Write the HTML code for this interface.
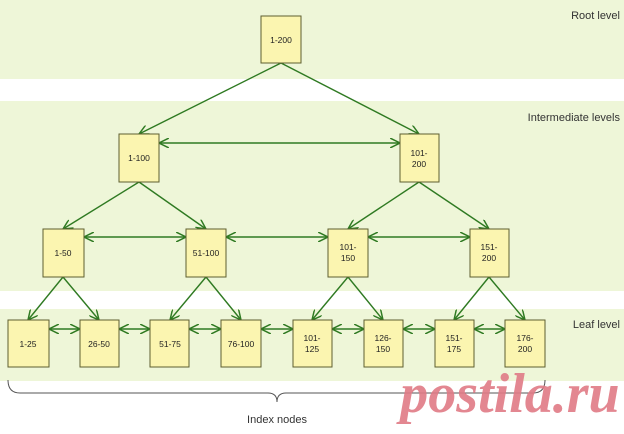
<!DOCTYPE html>
<html><head><style>body{margin:0;width:624px;height:429px;overflow:hidden;background:#fff}</style></head><body>
<svg width="624" height="429" viewBox="0 0 624 429" xmlns="http://www.w3.org/2000/svg" font-family="Liberation Sans, sans-serif">
<defs>
<marker id="a" viewBox="0 0 10 10" refX="10" refY="5" markerWidth="7" markerHeight="7" orient="auto-start-reverse"><path d="M0,0 L10,5 L0,10" fill="none" stroke="#2f7a22" stroke-width="1.5"/></marker>
</defs>
<rect x="0" y="0" width="624" height="79" fill="#eef6d8"/>
<rect x="0" y="101" width="624" height="190" fill="#eef6d8"/>
<rect x="0" y="309" width="624" height="72" fill="#eef6d8"/>
<g fill="#333" font-size="11">
<text x="620" y="19" text-anchor="end">Root level</text>
<text x="620" y="121" text-anchor="end">Intermediate levels</text>
<text x="620" y="328" text-anchor="end">Leaf level</text>
</g>
<g stroke="#2f7a22" stroke-width="1.4" fill="none" marker-end="url(#a)">
<line x1="281" y1="63" x2="139" y2="134"/>
<line x1="281" y1="63" x2="419" y2="134"/>
<line x1="139" y1="182" x2="63" y2="229"/>
<line x1="139" y1="182" x2="206" y2="229"/>
<line x1="419" y1="182" x2="348" y2="229"/>
<line x1="419" y1="182" x2="489" y2="229"/>
<line x1="63" y1="277" x2="28" y2="320"/>
<line x1="63" y1="277" x2="99" y2="320"/>
<line x1="206" y1="277" x2="170" y2="320"/>
<line x1="206" y1="277" x2="241" y2="320"/>
<line x1="348" y1="277" x2="312" y2="320"/>
<line x1="348" y1="277" x2="383" y2="320"/>
<line x1="489" y1="277" x2="454" y2="320"/>
<line x1="489" y1="277" x2="525" y2="320"/>
</g>
<g stroke="#2f7a22" stroke-width="1.4" fill="none" marker-start="url(#a)" marker-end="url(#a)">
<line x1="159" y1="143" x2="400" y2="143"/>
<line x1="84" y1="237" x2="186" y2="237"/>
<line x1="226" y1="237" x2="328" y2="237"/>
<line x1="368" y1="237" x2="470" y2="237"/>
<line x1="49" y1="329" x2="80" y2="329"/>
<line x1="119" y1="329" x2="150" y2="329"/>
<line x1="189" y1="329" x2="221" y2="329"/>
<line x1="261" y1="329" x2="293" y2="329"/>
<line x1="332" y1="329" x2="364" y2="329"/>
<line x1="403" y1="329" x2="435" y2="329"/>
<line x1="474" y1="329" x2="505" y2="329"/>
</g>
<g fill="#fbf5b0" stroke="#5e5e30" stroke-width="1">
<rect x="261" y="16" width="40" height="47"/>
<rect x="119" y="134" width="40" height="48"/>
<rect x="400" y="134" width="39" height="48"/>
<rect x="43" y="229" width="41" height="48"/>
<rect x="186" y="229" width="40" height="48"/>
<rect x="328" y="229" width="40" height="48"/>
<rect x="470" y="229" width="39" height="48"/>
<rect x="8" y="320" width="41" height="47"/>
<rect x="80" y="320" width="39" height="47"/>
<rect x="150" y="320" width="39" height="47"/>
<rect x="221" y="320" width="40" height="47"/>
<rect x="293" y="320" width="39" height="47"/>
<rect x="364" y="320" width="39" height="47"/>
<rect x="435" y="320" width="39" height="47"/>
<rect x="505" y="320" width="40" height="47"/>
</g>
<g fill="#222" font-size="8.5" text-anchor="middle">
<text x="281" y="43">1-200</text>
<text x="139" y="161">1-100</text>
<text x="419" y="156">101-</text><text x="419" y="167">200</text>
<text x="63" y="256">1-50</text>
<text x="206" y="256">51-100</text>
<text x="348" y="250">101-</text><text x="348" y="261">150</text>
<text x="489" y="250">151-</text><text x="489" y="261">200</text>
<text x="28" y="347">1-25</text>
<text x="99" y="347">26-50</text>
<text x="170" y="347">51-75</text>
<text x="241" y="347">76-100</text>
<text x="312" y="341">101-</text><text x="312" y="352">125</text>
<text x="383" y="341">126-</text><text x="383" y="352">150</text>
<text x="454" y="341">151-</text><text x="454" y="352">175</text>
<text x="525" y="341">176-</text><text x="525" y="352">200</text>
</g>
<path d="M8,380 Q8,393 20,393 L268,393 Q277,393 277,402 Q277,393 286,393 L533,393 Q545,393 545,380" fill="none" stroke="#555" stroke-width="1"/>
<text x="277" y="423" text-anchor="middle" font-size="11" fill="#333">Index nodes</text>
<text x="510" y="412" text-anchor="middle" font-size="56" font-weight="bold" font-style="italic" font-family="Liberation Serif, serif" fill="#e07b86" opacity="0.9">postila.ru</text>
</svg>
</body></html>
